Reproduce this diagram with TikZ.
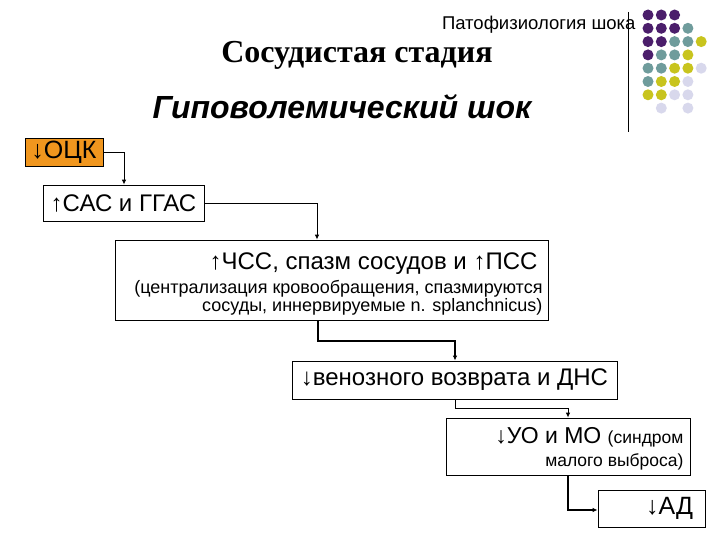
\documentclass[tikz,border=0pt]{standalone}
\usepackage{fontspec}
\setmainfont{Liberation Sans}
\newfontfamily\serifb{Liberation Serif}
\begin{document}
\begin{tikzpicture}[x=1pt,y=-1pt,
  bx/.style={draw,line width=0.8pt,inner sep=0pt},
  con/.style={line width=1.2pt,-{Latex[length=5pt,width=4.5pt]}},
  dot/.style={circle,inner sep=0pt,minimum size=11pt}]
\useasboundingbox (0,0) rectangle (720,540);
\usetikzlibrary{arrows.meta}
\definecolor{pp}{HTML}{4B1E6B}\definecolor{tt}{HTML}{6F9C9C}
\definecolor{yy}{HTML}{C8C41E}\definecolor{ll}{HTML}{D8D8EC}
\definecolor{org}{HTML}{F0961E}
% dots
\foreach \r/\list in {0/{0/pp,1/pp,2/pp},1/{0/pp,1/pp,2/pp,3/tt},2/{0/pp,1/pp,2/tt,3/tt,4/yy},
  3/{0/pp,1/tt,2/tt,3/yy},4/{0/tt,1/tt,2/yy,3/yy,4/ll},5/{0/tt,1/yy,2/yy,3/ll},
  6/{0/yy,1/yy,2/ll,3/ll},7/{1/ll,3/ll}}
  \foreach \c/\col in \list
    \node[dot,fill=\col] (d\r\c) at (648+13.3*\c,15+13.3*\r) {};
\draw[line width=0.8pt] (628,12) coordinate (v1) -- (628,132) coordinate (v2);
\node[anchor=east,font=\fontsize{18.5}{22}\selectfont] (hdr) at (639,25) {Патофизиология шока};
\node[font=\serifb\bfseries\fontsize{32}{38}\selectfont] (tit) at (357,55) {Сосудистая стадия};
\node[font=\bfseries\itshape\fontsize{32}{38}\selectfont] (sub) at (342,107) {Гиповолемический шок};
% boxes
\node[bx,fill=org,minimum width=78pt,minimum height=28pt,font=\fontsize{25}{28}\selectfont] (b1) at (64,152) {↓ОЦК};
\node[bx,minimum width=161pt,minimum height=36pt,font=\fontsize{24}{28}\selectfont] (b2) at (123.5,203) {↑САС и ГГАС};
\node[bx,minimum width=433pt,minimum height=80pt] (b3) at (331.5,280) {};
\node[anchor=east,font=\fontsize{24}{28}\selectfont] (t3a) at (541,264) {↑ЧСС, спазм сосудов и ↑ПСС};
\node[anchor=east,align=right,font=\fontsize{18}{17.5}\selectfont] (t3b) at (546,298) {(централизация кровообращения, спазмируются\\сосуды, иннервируемые n. splanchnicus)};
\node[bx,minimum width=325pt,minimum height=38pt,font=\fontsize{24}{28}\selectfont] (b4) at (454.5,380) {↓венозного возврата и ДНС};
\node[bx,minimum width=244pt,minimum height=57pt] (b5) at (568,446.5) {};
\node[anchor=east,font=\fontsize{23}{27}\selectfont] (t5a) at (687,437) {↓УО и МО \fontsize{17.5}{21}\selectfont(синдром};
\node[anchor=east,font=\fontsize{17.5}{21}\selectfont] (t5b) at (687,462) {малого выброса)};
\node[bx,minimum width=107pt,minimum height=37pt,font=\fontsize{25}{28}\selectfont,anchor=center] (b6) at (651.5,508.5) {\hspace*{36pt}↓АД};
% connectors
\draw[con,line width=0.9pt] (b1.east) -| (b2.north -| 124,0);
\draw[con,line width=0.9pt] (b2.east) -| (b3.north -| 317,0);
\draw[con] (b3.south -| 318,0) -- (318,341) -| (b4.north -| 455,0);
\draw[con,line width=0.9pt] (b4.south -| 455,0) -- (455,408) -| (b5.north);
\draw[con] (b5.south) |- (b6.west |- 0,510);
\end{tikzpicture}
\end{document}
